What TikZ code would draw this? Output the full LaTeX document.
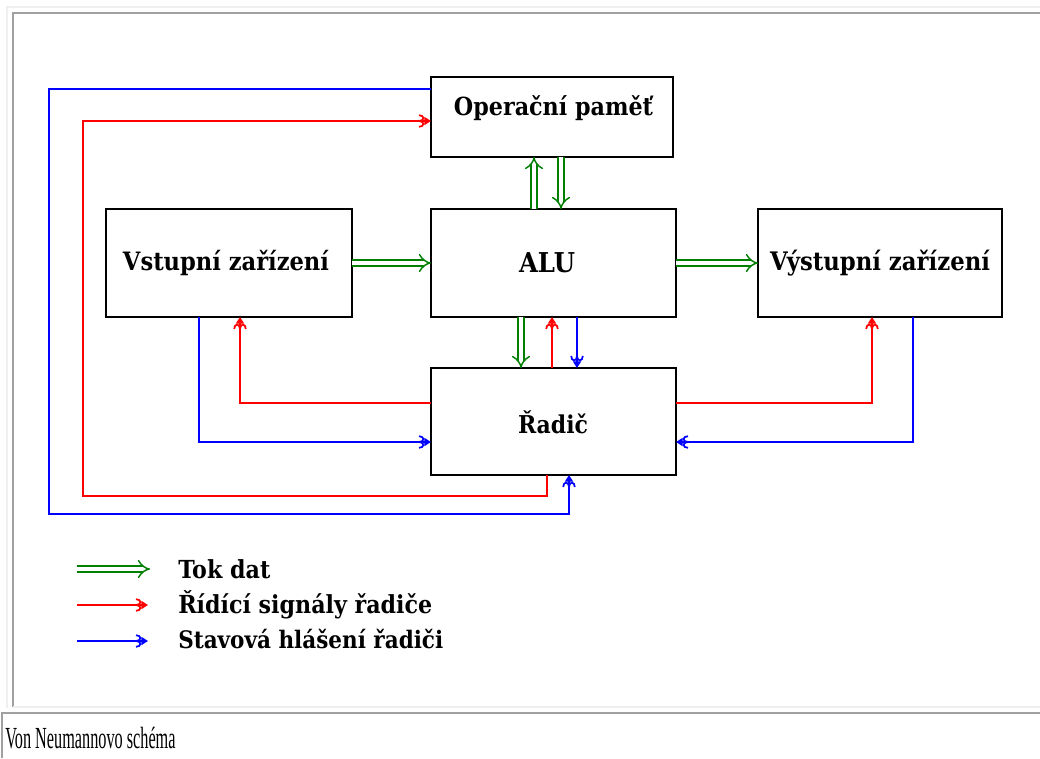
\documentclass[tikz,border=0pt]{standalone}
\usepackage{fontspec}
\newfontfamily\capfont{Liberation Serif}
\newfontfamily\unitfont{DejaVu Serif}
\usetikzlibrary{arrows.meta}
\definecolor{webgreen}{HTML}{008000}
\definecolor{webred}{HTML}{FF0000}
\definecolor{webblue}{HTML}{0000FF}
\definecolor{framelight}{HTML}{EFEFEF}
\definecolor{framedark}{HTML}{A0A0A0}
% bold label stretched to a given width (in pixels of the canvas), slightly tall
\newcommand\fitlabel[2]{\scalebox{1}[1.12]{\resizebox{#1\dimexpr 0.75pt\relax}{!}{#2}}}

\begin{document}
\begin{tikzpicture}[x=0.75pt,y=-0.75pt,
  unitbox/.style={draw=black, line width=1.5pt, rectangle, inner sep=0pt, outer sep=0pt},
  boxtext/.style={font=\unitfont\bfseries\fontsize{16.4}{18}\selectfont, inner sep=0pt, anchor=base},
  legtext/.style={font=\unitfont\bfseries\fontsize{16.4}{18}\selectfont, inner sep=0pt, anchor=base west},
  flow/.style={draw=webgreen, line width=1.1pt, double=white, double distance=3.6pt,
               -{Implies[scale=1.35]}},
  sig/.style={line width=1.3pt, -{Hooks[length=4pt,width=10pt] Triangle[length=5pt,width=6pt]}},
  ctl/.style={sig, draw=webred},
  stat/.style={sig, draw=webblue},
  frlight/.style={draw=framelight, line width=1.5pt},
  frdark/.style={draw=framedark, line width=1.5pt},
]
% canvas
\fill[white] (0,0) rectangle (1040,758);
\useasboundingbox (0,0) rectangle (1040,758);

% table frame around the figure and its caption cell
\draw[frlight] (7,708) -- (7,7) -- (1040,7);
\draw[frdark] (13,707) -- (13,13) -- (1040,13);
\draw[frlight] (13,707) -- (1040,707);
\draw[frdark] (2,758) -- (2,713) -- (1040,713);
\node[font=\capfont\fontsize{23}{25}\selectfont, anchor=base west, inner sep=0pt]
  (caption) at (5,748) {\scalebox{0.53}[1]{Von Neumannovo schéma}};

% units
\node[unitbox, minimum width=242*0.75pt, minimum height=80*0.75pt]  (mem) at (552,117) {};
\node[unitbox, minimum width=246*0.75pt, minimum height=108*0.75pt] (vst) at (229,263) {};
\node[unitbox, minimum width=245*0.75pt, minimum height=108*0.75pt] (alu) at (553.5,263) {};
\node[unitbox, minimum width=244*0.75pt, minimum height=108*0.75pt] (vys) at (880,263) {};
\node[unitbox, minimum width=245*0.75pt, minimum height=107*0.75pt] (rad) at (553.5,421.5) {};

\node[boxtext] (memtext) at (553.5,115) {\fitlabel{199}{Operační paměť}};
\node[boxtext] (vsttext) at (226,270) {\fitlabel{206}{Vstupní zařízení}};
\node[boxtext] (alutext) at (547,272) {\fitlabel{56}{ALU}};
\node[boxtext] (vystext) at (880,270) {\fitlabel{220}{Výstupní zařízení}};
\node[boxtext] (radtext) at (553,433) {\fitlabel{70}{Řadič}};

% data flow
\draw[flow] (vst.east) -- (alu.west);
\draw[flow] (alu.east) -- (vys.west);
\draw[flow] (alu.north -| 534,0) -- (mem.south -| 534,0);
\draw[flow] (mem.south -| 561,0) -- (alu.north -| 561,0);
\draw[flow] (alu.south -| 521,0) -- (rad.north -| 521,0);

% control signals
\draw[ctl] (rad.north -| 552,0) -- (alu.south -| 552,0);
\draw[ctl] (rad.west |- 0,403) -| (vst.south -| 240,0);
\draw[ctl] (rad.east |- 0,403) -| (vys.south -| 872,0);
\draw[ctl] (rad.south -| 547,0) |- (83,496) |- (mem.west |- 0,121);

% status reports
\draw[stat] (alu.south -| 577,0) -- (rad.north -| 577,0);
\draw[stat] (vst.south -| 199,0) |- (rad.west |- 0,442);
\draw[stat] (vys.south -| 913,0) |- (rad.east |- 0,442);
\draw[stat] (mem.west |- 0,89) -| (49,514) -| (rad.south -| 569,0);

% legend
\coordinate (lgA1) at (77,569);  \coordinate (lgA2) at (150,569);
\coordinate (lgB1) at (77,605);  \coordinate (lgB2) at (148,605);
\coordinate (lgC1) at (77,641);  \coordinate (lgC2) at (148,641);
\draw[flow] (lgA1) -- (lgA2);
\draw[ctl]  (lgB1) -- (lgB2);
\draw[stat] (lgC1) -- (lgC2);
\node[legtext] (lgAtext) at (178,578) {\fitlabel{92}{Tok dat}};
\node[legtext] (lgBtext) at (178,613) {\fitlabel{254}{Řídící signály řadiče}};
\node[legtext] (lgCtext) at (178,648) {\fitlabel{265}{Stavová hlášení řadiči}};
\end{tikzpicture}
\end{document}
